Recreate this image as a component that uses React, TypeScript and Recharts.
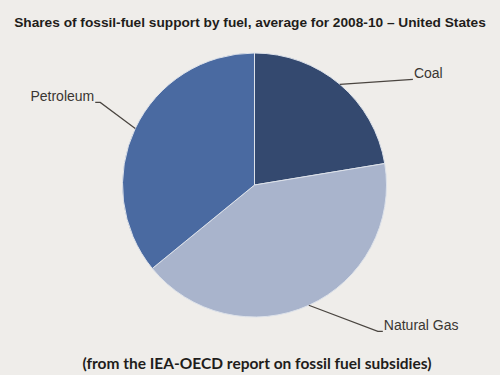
import React from 'react';
import { PieChart, Pie, Cell } from 'recharts';

const FUELS = ['Coal', 'Natural Gas', 'Petroleum'];
const SHARES = [22.4, 41.7, 35.9];
const COLORS = ['#34496f', '#a9b4cc', '#4a6aa1'];

const TITLE = 'Shares of fossil-fuel support by fuel, average for 2008-10 \u2013 United States';
const CAPTION = '(from the IEA-OECD report on fossil fuel subsidies)';

const data = FUELS.map((name, i) => ({ name, value: SHARES[i], color: COLORS[i] }));

// leader line geometry per label: elbow offset from the slice edge, then a short tail
const LEADERS: Record<string, { dx: number; dy: number; tail: number }> = {
  Coal: { dx: 73, dy: -5, tail: 0 },
  'Natural Gas': { dx: 69, dy: 26, tail: 5 },
  Petroleum: { dx: -35, dy: -26, tail: -5 },
};

const RAD = Math.PI / 180;

const renderLabel = (props: any) => {
  const { cx, cy, midAngle, outerRadius, name } = props;
  const sx = cx + outerRadius * Math.cos(-midAngle * RAD);
  const sy = cy + outerRadius * Math.sin(-midAngle * RAD);
  const l = LEADERS[name];
  const ex = sx + l.dx;
  const ey = sy + l.dy;
  const tx = ex + l.tail;
  const left = l.dx < 0;
  return (
    <g key={`lbl-${name}`}>
      <polyline
        points={`${sx},${sy} ${ex},${ey} ${tx},${ey}`}
        fill="none"
        stroke="#4a4540"
        strokeWidth={1.2}
      />
      <text
        x={left ? tx - 1 : tx + 1}
        y={ey - 5}
        textAnchor={left ? 'end' : 'start'}
        dominantBaseline="middle"
        fontFamily="Liberation Sans, Arial, sans-serif"
        fontSize={14}
        fill="#3a3632"
      >
        {name}
      </text>
    </g>
  );
};

export default function App() {
  return (
    <div
      style={{
        position: 'fixed',
        left: 0,
        top: 0,
        width: 500,
        height: 375,
        background: '#efedea',
        overflow: 'hidden',
      }}
    >
      <div
        style={{
          position: 'absolute',
          left: 0,
          top: 14,
          width: 500,
          textAlign: 'center',
          fontFamily: 'Liberation Sans, Arial, sans-serif',
          fontWeight: 'bold',
          fontSize: 13.7,
          color: '#1f1d1b',
          lineHeight: '18px',
          whiteSpace: 'nowrap',
        }}
      >
        {TITLE}
      </div>
      <PieChart
        width={500}
        height={375}
        margin={{ top: 0, right: 0, bottom: 0, left: 0 }}
        style={{ position: 'absolute', left: 0, top: 0 }}
      >
        <Pie
          data={data}
          dataKey="value"
          nameKey="name"
          cx={254.5}
          cy={185}
          innerRadius={0}
          outerRadius={132}
          startAngle={90}
          endAngle={-270}
          stroke="#dde2ea"
          strokeWidth={1}
          label={renderLabel}
          labelLine={false}
          isAnimationActive={false}
        >
          {data.map((d, i) => (
            <Cell key={`cell-${d.name}-${i}`} fill={d.color} />
          ))}
        </Pie>
      </PieChart>
      <div
        style={{
          position: 'absolute',
          left: 7,
          top: 353,
          width: 500,
          textAlign: 'center',
          fontFamily: 'Lato, "Open Sans", sans-serif',
          fontWeight: 'bold',
          fontSize: 15.5,
          color: '#1f1d1b',
          lineHeight: '20px',
          whiteSpace: 'nowrap',
        }}
      >
        {CAPTION}
      </div>
    </div>
  );
}
